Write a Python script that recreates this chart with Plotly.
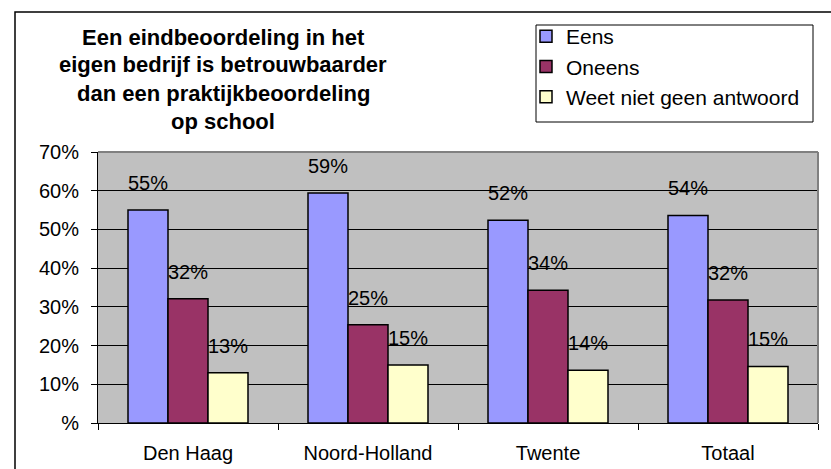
import plotly.graph_objects as go

categories = ["Den Haag", "Noord-Holland", "Twente", "Totaal"]
series_names = ["Eens", "Oneens", "Weet niet geen antwoord"]
eens = [55.0, 59.4, 52.4, 53.6]
oneens = [32.1, 25.4, 34.3, 31.8]
weet_niet = [13.0, 15.0, 13.6, 14.6]
series_values = [eens, oneens, weet_niet]
series_colors = ["#9999FF", "#993366", "#FFFFCC"]
y_tickvals = [0, 10, 20, 30, 40, 50, 60, 70]
y_ticktext = ["%", "10%", "20%", "30%", "40%", "50%", "60%", "70%"]
title_lines = [
    "Een eindbeoordeling in het",
    "eigen bedrijf is betrouwbaarder",
    "dan een praktijkbeoordeling",
    "op school",
]

FONT = "Liberation Sans, Arial, sans-serif"
W, H = 831, 469
L, R, T, B = 98, 13, 152, 46
pw, ph = W - L - R, H - T - B

def px_x(x):
    return (x - L) / pw

def px_y(y):
    return (H - B - y) / ph

fig = go.Figure()
for i, (name, vals, col) in enumerate(zip(series_names, series_values, series_colors)):
    fig.add_trace(go.Bar(
        name=name, x=categories, y=vals,
        marker=dict(color=col, line=dict(color="#000000", width=1.5)),
        legendgroup=name,
        hoverinfo="x+y+name",
    ))

annotations = []
bar_w = pw / len(categories) * (2 / 3) / len(series_names)
for i, vals in enumerate(series_values):
    for c, v in zip(categories, vals):
        annotations.append(dict(
            x=c, y=v, xref="x", yref="y", text=f"{v:.0f}%", showarrow=False,
            xshift=(i - 1) * bar_w, yanchor="bottom", yshift=14,
            font=dict(family=FONT, size=20, color="#000000"),
        ))

title_y = [37, 65, 93, 121]
for line, ty in zip(title_lines, title_y):
    annotations.append(dict(
        x=px_x(223), y=px_y(ty), xref="paper", yref="paper", text=f"<b>{line}</b>",
        showarrow=False, xanchor="center", yanchor="middle",
        font=dict(family=FONT, size=22, color="#000000"),
    ))

shapes = [
    # outer chart frame (extends past the picture on the right and bottom)
    dict(type="rect", xref="paper", yref="paper", x0=px_x(15), x1=px_x(840),
         y0=px_y(480), y1=px_y(12), line=dict(color="#000000", width=1.5), layer="below"),
    # legend box
    dict(type="rect", xref="paper", yref="paper", x0=px_x(536), x1=px_x(813),
         y0=px_y(122), y1=px_y(25), line=dict(color="#000000", width=1), layer="below"),
    # plot area border (top / right in grey)
    dict(type="line", xref="paper", yref="paper", x0=0, x1=1, y0=1, y1=1,
         line=dict(color="#808080", width=2), layer="above"),
    dict(type="line", xref="paper", yref="paper", x0=1, x1=1, y0=0, y1=1,
         line=dict(color="#808080", width=2), layer="above"),
]

fig.update_layout(
    width=W, height=H,
    margin=dict(l=L, r=R, t=T, b=B, autoexpand=False),
    paper_bgcolor="#FFFFFF", plot_bgcolor="#C0C0C0",
    barmode="group", bargap=1 / 3, bargroupgap=0,
    font=dict(family=FONT, size=20, color="#000000"),
    showlegend=True,
    legend=dict(
        x=px_x(526), y=px_y(16), xanchor="left", yanchor="top",
        bgcolor="rgba(0,0,0,0)", borderwidth=0,
        font=dict(family=FONT, size=21, color="#000000"),
        tracegroupgap=0, itemwidth=30,
    ),
    annotations=annotations, shapes=shapes,
    xaxis=dict(
        type="category", showgrid=False, zeroline=False,
        showline=True, linecolor="#000000", linewidth=1,
        ticks="outside", tickson="boundaries", ticklen=6, tickcolor="#000000",
        tickfont=dict(family=FONT, size=20), ticklabelstandoff=12,
    ),
    yaxis=dict(
        range=[0, 70], tickvals=y_tickvals, ticktext=y_ticktext,
        showgrid=True, gridcolor="#000000", gridwidth=1, zeroline=False,
        showline=True, linecolor="#000000", linewidth=1,
        ticks="outside", ticklen=6, tickcolor="#000000",
        tickfont=dict(family=FONT, size=20), ticklabelstandoff=8,
    ),
)

fig.write_html(
    "out.html",
    config={"displayModeBar": False},
    post_script="document.body.style.margin='0px';",
)
